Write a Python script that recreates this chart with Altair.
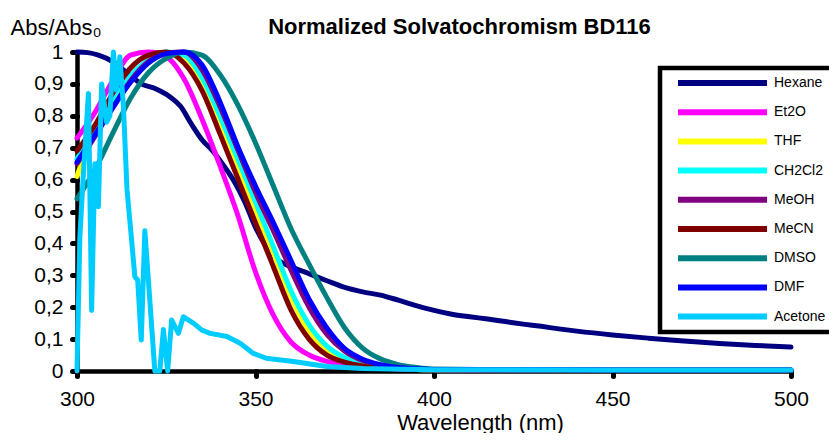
import altair as alt
import pandas as pd

title_text = ["Normalized Solvatochromism BD116"]
names = ["Hexane", "Et2O", "THF", "CH2Cl2", "MeOH", "MeCN", "DMSO", "DMF", "Acetone"]
colors = ["#000080", "#FF00FF", "#FFFF00", "#00FFFF", "#800080", "#800000", "#008080", "#0000FF", "#00CCFF"]

x_ticks = [300, 350, 400, 450, 500]
y_ticks = [0, 0.1, 0.2, 0.3, 0.4, 0.5, 0.6, 0.7, 0.8, 0.9, 1.0]

# wavelength grid for the peaked spectra
wl_peak = [300, 305, 310, 315, 320, 325, 330, 335, 340, 345, 350, 355, 360, 365, 370,
           375, 380, 385, 390, 395, 400, 425, 450, 475, 500]

hexane_wl = [300, 303, 306, 310, 314, 318, 322, 326, 329, 332, 335, 338, 341, 344, 347,
             350, 353, 356, 360, 365, 370, 375, 380, 385, 390, 395, 400, 405, 410, 415,
             420, 425, 430, 435, 440, 450, 460, 470, 480, 490, 500]
hexane_v = [1.0, 0.998, 0.99, 0.97, 0.935, 0.9, 0.885, 0.86, 0.83, 0.775, 0.725, 0.69, 0.645, 0.595, 0.53,
            0.45, 0.39, 0.35, 0.327, 0.305, 0.283, 0.262, 0.248, 0.238, 0.222, 0.205, 0.19, 0.178, 0.17, 0.163,
            0.155, 0.147, 0.14, 0.132, 0.125, 0.113, 0.103, 0.094, 0.086, 0.08, 0.075]

et2o_v = [0.73, 0.81, 0.91, 0.99, 1.0, 0.985, 0.915, 0.79, 0.645, 0.49, 0.31, 0.175, 0.09, 0.05, 0.03,
          0.02, 0.013, 0.009, 0.006, 0.005, 0.004, 0.003, 0.002, 0.002, 0.002]

thf_wl = [300, 302] + wl_peak[1:]
thf_v = [0.61, 0.675, 0.74, 0.83, 0.91, 0.965, 0.995, 0.985, 0.905, 0.78, 0.645, 0.505, 0.37, 0.23, 0.125, 0.065,
         0.035, 0.02, 0.012, 0.008, 0.005, 0.004, 0.003, 0.002, 0.002, 0.002]

ch2cl2_v = [0.665, 0.755, 0.84, 0.925, 0.975, 1.0, 0.99, 0.92, 0.80, 0.665, 0.53, 0.39, 0.25, 0.145, 0.078,
            0.042, 0.023, 0.013, 0.008, 0.005, 0.004, 0.003, 0.002, 0.002, 0.002]

meoh_v = [0.65, 0.735, 0.825, 0.91, 0.97, 0.998, 1.0, 0.945, 0.83, 0.695, 0.56, 0.44, 0.315, 0.2, 0.115,
          0.062, 0.033, 0.018, 0.01, 0.006, 0.004, 0.003, 0.002, 0.002, 0.002]

mecn_v = [0.69, 0.77, 0.87, 0.95, 0.99, 1.0, 0.965, 0.88, 0.745, 0.605, 0.465, 0.327, 0.19, 0.1, 0.05,
          0.028, 0.016, 0.01, 0.007, 0.005, 0.004, 0.003, 0.002, 0.002, 0.002]

dmso_v = [0.54, 0.63, 0.745, 0.855, 0.935, 0.98, 1.0, 0.99, 0.93, 0.835, 0.715, 0.58, 0.445, 0.335, 0.23,
          0.135, 0.072, 0.038, 0.02, 0.011, 0.006, 0.004, 0.003, 0.003, 0.003]

dmf_v = [0.655, 0.74, 0.825, 0.905, 0.965, 0.995, 1.0, 0.96, 0.845, 0.705, 0.58, 0.465, 0.345, 0.225, 0.135,
         0.07, 0.037, 0.02, 0.011, 0.007, 0.005, 0.004, 0.003, 0.003, 0.003]

acetone_wl = [300.0, 300.8, 301.8, 303.2, 304.1, 305.0, 306.0, 306.9, 308.3, 309.2, 310.2, 311.0, 312.0,
              313.0, 314.0, 315.3, 316.2, 317.0, 318.0, 319.0, 319.9, 321.8, 323.2, 324.2, 325.4, 326.5,
              328.4, 329.8, 332.6, 335.0, 337.3, 342.0, 345.7, 349.4, 353.0, 360.6, 370.0, 380.0, 400.0,
              450.0, 500.0]
acetone_v = [0.0, 0.42, 0.62, 0.87, 0.19, 0.65, 0.515, 0.90, 0.78, 0.80, 1.0, 0.88, 0.985,
             0.83, 0.57, 0.41, 0.296, 0.285, 0.097, 0.44, 0.30, 0.0, 0.0, 0.13, 0.0, 0.16,
             0.118, 0.17, 0.15, 0.128, 0.118, 0.108, 0.087, 0.055, 0.04, 0.03, 0.014, 0.008, 0.004,
             0.003, 0.003]

series = [
    ("Hexane", hexane_wl, hexane_v),
    ("Et2O", wl_peak, et2o_v),
    ("THF", thf_wl, thf_v),
    ("CH2Cl2", wl_peak, ch2cl2_v),
    ("MeOH", wl_peak, meoh_v),
    ("MeCN", wl_peak, mecn_v),
    ("DMSO", wl_peak, dmso_v),
    ("DMF", wl_peak, dmf_v),
    ("Acetone", acetone_wl, acetone_v),
]

rows = []
for name, wl, vals in series:
    for w, v in zip(wl, vals):
        rows.append({"series": name, "wl": w, "v": v})
df = pd.DataFrame(rows)

FONT = "Liberation Sans"

x_enc = alt.X(
    "wl:Q",
    scale=alt.Scale(domain=[300, 500], nice=False, zero=False),
    axis=alt.Axis(
        values=x_ticks, title="Wavelength (nm)", grid=False, labelFlush=False,
        domainColor="black", domainWidth=4.5,
        tickColor="black", tickWidth=5, tickSize=5, tickCap="round",
        labelFont=FONT, labelFontSize=21, labelColor="black", labelPadding=12,
        titleFont=FONT, titleFontSize=22, titleFontWeight="normal", titleColor="black",
        titleX=403, titleY=58, titleAlign="center", titleBaseline="alphabetic",
    ),
)
y_enc = alt.Y(
    "v:Q",
    scale=alt.Scale(domain=[0, 1], nice=False),
    axis=alt.Axis(
        values=y_ticks, title="Abs/Abs\u2080", grid=False, labelFlush=False,
        labelExpr="datum.value == 0 ? '0' : datum.value == 1 ? '1' : replace(format(datum.value, '.1f'), '.', ',')",
        domainColor="black", domainWidth=4.5,
        tickColor="black", tickWidth=5, tickSize=5, tickCap="round",
        labelFont=FONT, labelFontSize=21, labelColor="black", labelPadding=9,
        titleFont=FONT, titleFontSize=22, titleFontWeight="normal", titleColor="black",
        titleAngle=0, titleX=-67, titleY=-18, titleAlign="left", titleBaseline="alphabetic",
    ),
)
color_enc = alt.Color(
    "series:N",
    scale=alt.Scale(domain=names, range=colors),
    sort=names,
    legend=alt.Legend(
        title="\u00a0", titleOrient="right", titlePadding=40, titleFontSize=14,
        orient="none", legendX=583, legendY=16, direction="vertical",
        symbolType="stroke", symbolSize=7921, symbolStrokeWidth=6,
        clipHeight=20, rowPadding=9.2, padding=5, symbolOffset=10, labelOffset=4,
        labelFont=FONT, labelFontSize=14, labelColor="black",
        fillColor="white", strokeColor="black",
    ),
)

layers = []
for name in names:
    interp = "linear" if name == "Acetone" else "monotone"
    layers.append(
        alt.Chart(df[df["series"] == name])
        .mark_line(strokeWidth=5, interpolate=interp, strokeCap="round", strokeJoin="round")
        .encode(x=x_enc, y=y_enc, color=color_enc)
    )

title_layer = (
    alt.Chart(pd.DataFrame({"t": title_text}))
    .mark_text(font=FONT, fontSize=22, fontWeight="bold", color="black",
               align="center", baseline="alphabetic")
    .encode(text="t:N", x=alt.value(382.5), y=alt.value(-17.7))
)

chart = (
    alt.layer(*layers, title_layer)
    .properties(
        width=714, height=319,
        padding={"left": 69, "top": 44, "right": 38, "bottom": 62},
        autosize=alt.AutoSizeParams(type="none"),
    )
    .configure_view(strokeWidth=0)
    .configure_legend(strokeWidth=4.5)
)

chart.save("out.html", embed_options={"renderer": "svg", "actions": False})
